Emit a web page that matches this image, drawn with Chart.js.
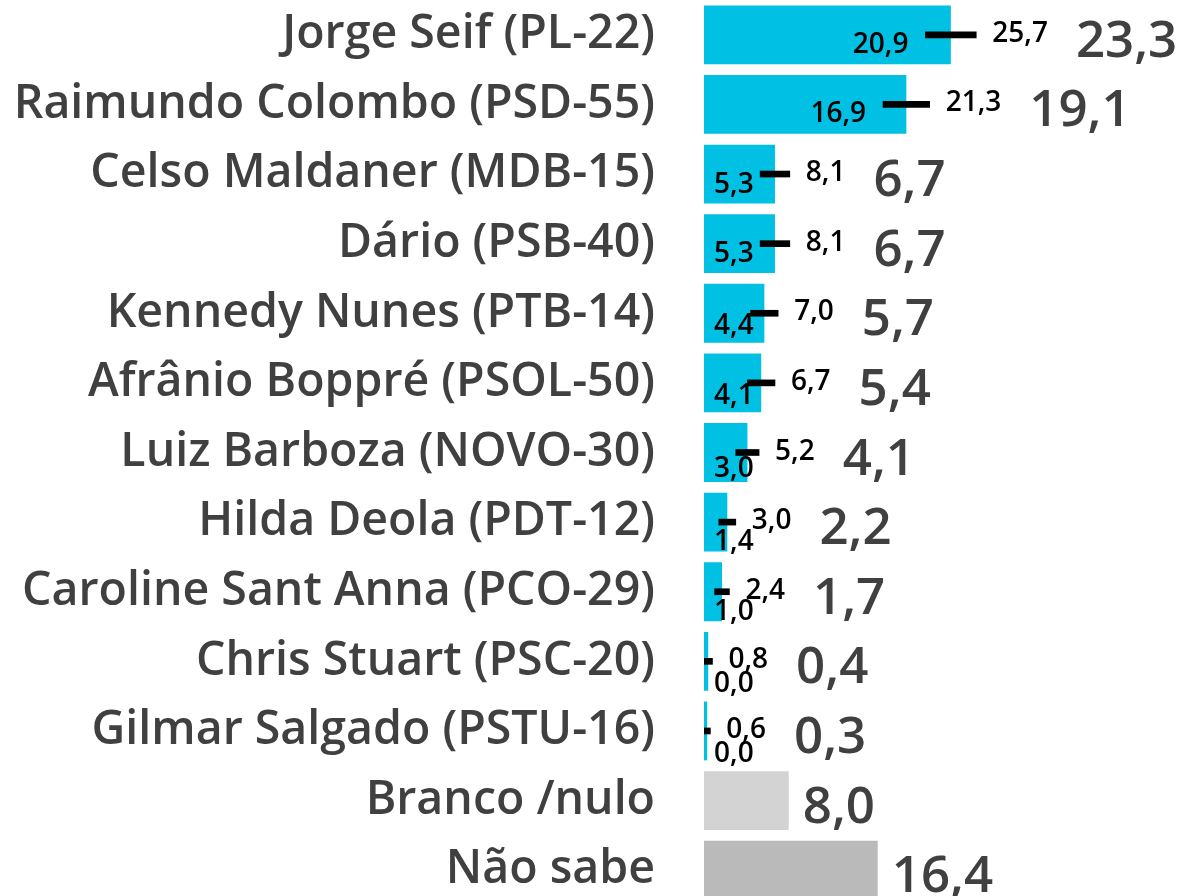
<!DOCTYPE html>
<html>
<head>
<meta charset="utf-8">
<script src="https://cdn.jsdelivr.net/npm/chart.js@4.4.0/dist/chart.umd.min.js"></script>
<style>
    html, body { margin: 0; padding: 0; background: #fff; overflow: hidden; }
    #wrap { position: relative; width: 1186px; height: 905px; }
</style>
</head>
<body>
<div id="wrap"><canvas id="pollChart"></canvas></div>
<script>
// Intenção de voto
const candidates = [
    'Jorge Seif (PL-22)', 'Raimundo Colombo (PSD-55)', 'Celso Maldaner (MDB-15)', 'Dário (PSB-40)',
    'Kennedy Nunes (PTB-14)', 'Afrânio Boppré (PSOL-50)', 'Luiz Barboza (NOVO-30)', 'Hilda Deola (PDT-12)',
    'Caroline Sant Anna (PCO-29)', 'Chris Stuart (PSC-20)', 'Gilmar Salgado (PSTU-16)', 'Branco /nulo', 'Não sabe'
];
const votes = [23.3, 19.1, 6.7, 6.7, 5.7, 5.4, 4.1, 2.2, 1.7, 0.4, 0.3, 8.0, 16.4];
const lowerCI = [20.9, 16.9, 5.3, 5.3, 4.4, 4.1, 3.0, 1.4, 1.0, 0.0, 0.0, null, null];
const upperCI = [25.7, 21.3, 8.1, 8.1, 7.0, 6.7, 5.2, 3.0, 2.4, 0.8, 0.6, null, null];

const CYAN = '#00c0e4';
const barColors = candidates.map(c => {
    if (c === 'Branco /nulo') return '#d3d3d3';
    if (c === 'Não sabe') return '#bababa';
    return CYAN;
});

const fmt = v => v.toFixed(1).replace('.', ',');

const labelPlugin = {
    id: 'pollLabels',
    afterDatasetsDraw(chart) {
        const { ctx, chartArea: area } = chart;
        const xs = chart.scales.x, ys = chart.scales.y;
        ctx.save();
        votes.forEach((v, i) => {
            const y = ys.getPixelForValue(i);
            let rightMost = xs.getPixelForValue(v);
            let gap = 14;

            if (upperCI[i] !== null) {
                // limite superior
                ctx.font = '600 28px "Open Sans"';
                ctx.fillStyle = '#000';
                ctx.textAlign = 'left';
                ctx.textBaseline = 'alphabetic';
                const ux = xs.getPixelForValue(upperCI[i]) + 16;
                const upTxt = fmt(upperCI[i]);
                ctx.fillText(upTxt, ux, y + 7);
                rightMost = Math.max(rightMost, ux + ctx.measureText(upTxt).width);
                gap = 28;

                // limite inferior
                const lx = xs.getPixelForValue(lowerCI[i]);
                const lowTxt = fmt(lowerCI[i]);
                const w = ctx.measureText(lowTxt).width;
                const left = Math.max(area.left + 10, lx - 17 - w);
                const dy = 7 + 13 * (1 - Math.min(1, (lx - area.left) / 60));
                ctx.fillText(lowTxt, left, y + dy + 11);
            }

            ctx.font = '600 51px "Open Sans"';
            ctx.fillStyle = '#404040';
            ctx.textAlign = 'left';
            ctx.textBaseline = 'alphabetic';
            ctx.fillText(fmt(v), rightMost + gap, y + 22);
        });
        ctx.restore();
    }
};

new Chart(document.getElementById('pollChart'), {
    type: 'bar',
    data: {
        labels: candidates,
        datasets: [
            {
                label: 'Intervalo',
                data: lowerCI.map((lo, i) => lo === null ? null : [lo, upperCI[i]]),
                backgroundColor: '#000',
                barThickness: 6,
                grouped: false,
                order: 0
            },
            {
                label: 'Votos',
                data: votes,
                backgroundColor: barColors,
                barPercentage: 0.845,
                categoryPercentage: 1,
                grouped: false,
                order: 1
            }
        ]
    },
    options: {
        indexAxis: 'y',
        responsive: true,
        maintainAspectRatio: false,
        animation: false,
        layout: { padding: 0 },
        scales: {
            x: { display: false, min: 0, max: 45.5 },
            y: {
                grid: { display: false, drawTicks: false },
                border: { display: false },
                afterFit: (scale) => {
                    scale.width = 704;
                    scale.paddingTop = 0;
                    scale.paddingBottom = 0;
                },
                ticks: {
                    padding: 49,
                    color: '#404040',
                    font: { family: '"Open Sans"', size: 46.5, weight: '600' }
                }
            }
        },
        plugins: {
            legend: { display: false },
            tooltip: { enabled: false }
        }
    },
    plugins: [labelPlugin]
});
</script>
</body>
</html>
